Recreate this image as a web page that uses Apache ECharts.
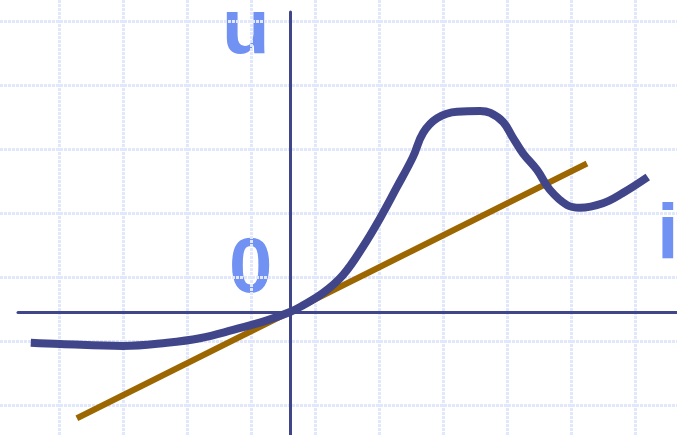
<!DOCTYPE html>
<html>
<head>
<meta charset="utf-8">
<script src="https://cdn.jsdelivr.net/npm/echarts@6/dist/echarts.min.js"></script>
<style>
  html, body { margin: 0; padding: 0; background: #fff; }
  #chart { width: 677px; height: 435px; }
</style>
</head>
<body>
<div id="chart"></div>
<script>
// i-u characteristic, values in grid cells measured from the origin
const curveI = [-4.05, -3.59, -2.61, -1.92, -1.41, -0.89, -0.36, 0, 0.16, 0.52, 0.83, 1.14, 1.41, 1.67, 1.92, 2.08, 2.30, 2.61, 2.97, 3.13, 3.33, 3.48, 3.64, 3.86, 4.06, 4.33, 4.53, 4.89, 5.20, 5.59];
const curveU = [-0.48, -0.50, -0.53, -0.48, -0.41, -0.28, -0.13, 0, 0.08, 0.30, 0.58, 1.02, 1.47, 1.95, 2.42, 2.80, 3.03, 3.13, 3.14, 3.11, 2.97, 2.73, 2.48, 2.22, 1.91, 1.67, 1.63, 1.70, 1.86, 2.11];

// tangent line through the origin
const lineI = [-3.33, 4.64];
const lineU = [-1.66, 2.32];

// background squares (column / row numbers of the paper grid)
const paperCols = [0, 1, 2, 3, 4, 5, 6, 7, 8, 9];
const paperRows = [1, 2, 3, 4, 5, 6, 7];

const axisLabels = { u: 'u', zero: '0', i: 'i' };

const zip = (a, b) => a.map((v, k) => [v, b[k]]);

const navy = '#41468a';
const labelColor = '#7191f3';
const labelFont = 'bold 78px "Liberation Sans", Arial, sans-serif';
const paperLine = { color: '#e1e8fc', width: 3, type: [3, 1] };

const chart = echarts.init(document.getElementById('chart'));

chart.setOption({
    animation: false,
    backgroundColor: '#ffffff',
    grid: [
        // paper grid, whole canvas
        { left: 0, right: 0, top: 0, bottom: 0 },
        // the data itself
        { left: 18, right: 0, top: 12, bottom: 0 }
    ],
    xAxis: [
        {
            type: 'value', gridIndex: 0, min: -0.921875, max: 9.65625, show: false
        },
        {
            type: 'value', gridIndex: 1, min: -4.25, max: 6.047, z: 2,
            axisLine: { show: true, onZero: true, lineStyle: { color: navy, width: 3 } },
            axisTick: { show: false }, axisLabel: { show: false }, splitLine: { show: false }
        }
    ],
    yAxis: [
        {
            type: 'value', gridIndex: 0, min: 0.53125, max: 7.328, show: false
        },
        {
            type: 'value', gridIndex: 1, min: -1.922, max: 4.6875, z: 2,
            axisLine: { show: true, onZero: true, lineStyle: { color: navy, width: 3 } },
            axisTick: { show: false }, axisLabel: { show: false }, splitLine: { show: false }
        }
    ],
    graphic: [
        { type: 'text', x: 222, y: -8, silent: true, z: -1,
          style: { text: axisLabels.u, font: labelFont, fill: labelColor } },
        { type: 'text', x: 229, y: 231, silent: true, z: -1,
          style: { text: axisLabels.zero, font: labelFont, fill: labelColor } },
        { type: 'text', x: 657, y: 198, silent: true, z: -1,
          style: { text: axisLabels.i, font: labelFont, fill: labelColor } }
    ],
    series: [
        {
            type: 'line', xAxisIndex: 0, yAxisIndex: 0, data: [], z: 0,
            markLine: {
                silent: true, symbol: 'none', animation: false, z: 0,
                label: { show: false },
                lineStyle: paperLine,
                data: paperCols.map(v => ({ xAxis: v }))
                    .concat(paperRows.map(v => ({ yAxis: v })))
            }
        },
        {
            type: 'line', xAxisIndex: 1, yAxisIndex: 1,
            data: zip(lineI, lineU),
            symbol: 'none', z: 3,
            lineStyle: { color: '#9c6600', width: 6 }
        },
        {
            type: 'line', xAxisIndex: 1, yAxisIndex: 1,
            data: zip(curveI, curveU),
            symbol: 'none', smooth: 0.4, z: 4,
            lineStyle: { color: navy, width: 8 }
        }
    ]
});
</script>
</body>
</html>
